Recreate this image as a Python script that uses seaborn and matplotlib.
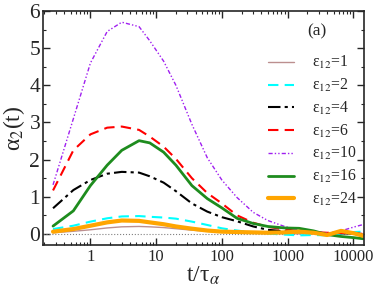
import numpy as np
import pandas as pd
import matplotlib
matplotlib.use("Agg")
import matplotlib.pyplot as plt
import seaborn as sns
from matplotlib.ticker import LogLocator, MultipleLocator, NullFormatter, FixedLocator, FixedFormatter

# time grid (t / tau_alpha)
t = [0.27, 0.55, 1, 1.8, 3, 5.5, 8, 13, 20, 35, 60, 100, 170, 300, 500,
     900, 1500, 2500, 4000, 6500, 10000, 14000]

eps1 = [0.03, 0.07, 0.11, 0.16, 0.19, 0.20, 0.19, 0.17, 0.14, 0.10, 0.07, 0.05,
        0.03, 0.02, 0.01, 0.01, 0.0, 0.0, 0.0, 0.0, 0.0, 0.0]
eps2 = [0.13, 0.22, 0.33, 0.42, 0.47, 0.48, 0.46, 0.44, 0.41, 0.33, 0.24, 0.15,
        0.09, 0.04, 0.01, -0.02, -0.04, -0.03, -0.04, 0.0, 0.05, 0.06]
eps4 = [0.69, 1.18, 1.45, 1.62, 1.67, 1.65, 1.55, 1.38, 1.15, 0.82, 0.60, 0.45,
        0.34, 0.20, 0.11, 0.07, 0.05, 0.03, 0.0, 0.02, 0.01, 0.0]
eps6 = [1.17, 2.25, 2.68, 2.86, 2.89, 2.80, 2.62, 2.35, 2.02, 1.50, 1.10, 0.82,
        0.50, 0.30, 0.19, 0.12, 0.08, 0.05, 0.03, 0.02, 0.02, 0.0]
eps10 = [1.32, 3.10, 4.60, 5.45, 5.70, 5.58, 5.20, 4.65, 4.00, 2.95, 2.05, 1.45,
         0.98, 0.58, 0.36, 0.20, 0.10, 0.06, 0.02, 0.08, 0.18, 0.25]
eps16 = [0.21, 0.62, 1.30, 1.85, 2.25, 2.51, 2.45, 2.20, 1.85, 1.30, 0.95, 0.70,
         0.42, 0.28, 0.20, 0.16, 0.15, 0.08, -0.02, -0.07, -0.10, -0.13]
eps24 = [0.06, 0.13, 0.22, 0.31, 0.36, 0.35, 0.31, 0.26, 0.20, 0.14, 0.09, 0.06,
         0.05, 0.04, 0.03, 0.04, 0.06, 0.03, -0.03, 0.08, 0.02, -0.05]

labels = ["1", "2", "4", "6", "10", "16", "24"]
series = [eps1, eps2, eps4, eps6, eps10, eps16, eps24]
colors = ["#bc8f8f", "cyan", "black", "red", "#a020f0", "#1e8c1e", "orange"]
styles = ["-", (0, (5, 3)), (0, (6, 2, 1.5, 2)), (0, (5, 3)),
          (0, (3, 1.5, 1, 1.5, 1, 1.5)), "-", "-"]
widths = [1.0, 1.5, 1.5, 1.5, 1.0, 2.0, 3.0]

sns.set_style("ticks")
plt.rcParams["font.family"] = ["Liberation Serif", "DejaVu Serif"]
plt.rcParams["mathtext.fontset"] = "stix"

fig = plt.figure(figsize=(3.74, 2.91), dpi=100)
ax = fig.add_axes([0.115, 0.158, 0.858, 0.804])

ax.axhline(0, color="gray", ls=":", lw=0.8)
for lab, vals, c, s, w in zip(labels, series, colors, styles, widths):
    df = pd.DataFrame({"t": t, "a2": vals})
    sns.lineplot(data=df, x="t", y="a2", ax=ax, color=c, linestyle=s, lw=w,
                 label=r"ε$_{12}$=" + lab)

ax.set_xscale("log")
ax.set_xlim(0.19, 14500)
ax.set_ylim(-0.3, 6)
ax.xaxis.set_major_locator(FixedLocator([1, 10, 100, 1000, 10000]))
ax.xaxis.set_major_formatter(FixedFormatter(["1", "10", "100", "1000", "10000"]))
ax.xaxis.set_minor_locator(LogLocator(base=10, subs=np.arange(2, 10), numticks=20))
ax.xaxis.set_minor_formatter(NullFormatter())
ax.yaxis.set_major_locator(MultipleLocator(1))
ax.yaxis.set_minor_locator(MultipleLocator(0.5))
ax.tick_params(which="both", direction="in", top=True, right=True)
ax.tick_params(axis="x", labelsize=12, pad=3)
ax.tick_params(axis="y", labelsize=15.5, pad=2)
ax.tick_params(which="major", length=5, width=1)
ax.tick_params(which="minor", length=2.5, width=0.8)
for sp in ax.spines.values():
    sp.set_linewidth(1.2)

ax.set_xlabel(r"t/τ$_{α}$", fontsize=17, labelpad=0)
ax.set_ylabel(r"α$_{2}$(t)", fontsize=17, labelpad=2)
ax.text(0.855, 0.915, "(a)", transform=ax.transAxes, fontsize=12.5, ha="center", va="center")

ax.legend(loc="upper left", bbox_to_anchor=(0.70, 0.815), frameon=False, fontsize=11.3,
          handlelength=1.7, handletextpad=1.1, labelspacing=0.36,
          borderpad=0, borderaxespad=0)

fig.savefig("out.png", dpi=100)
